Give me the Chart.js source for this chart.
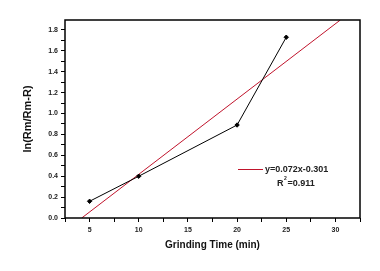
<!DOCTYPE html>
<html>
<head>
<meta charset="utf-8">
<script src="https://cdn.jsdelivr.net/npm/chart.js@4/dist/chart.umd.min.js"></script>
<style>
  html, body { margin: 0; padding: 0; background: #fff; }
  #wrap { width: 380px; height: 271px; }
</style>
</head>
<body>
<div id="wrap"><canvas id="grindChart"></canvas></div>
<script>
// measured points
const grindTime = [5, 10, 20, 25];
const lnRatio = [0.16, 0.40, 0.89, 1.73];

// linear fit y=0.072x-0.301, drawn between where it enters and leaves the frame
const fitX = [4.2, 30.5];
const fitY = [0.0, 1.895];

const xMajor = [5, 10, 15, 20, 25, 30];
const xMinor = [2.5, 7.5, 12.5, 17.5, 22.5, 27.5, 32.5];
const yMajor = [0.0, 0.2, 0.4, 0.6, 0.8, 1.0, 1.2, 1.4, 1.6, 1.8];
const yMinor = [0.1, 0.3, 0.5, 0.7, 0.9, 1.1, 1.3, 1.5, 1.7];

const fitLabel = "y=0.072x-0.301";
const r2Label = "R";
const r2Value = " =0.911";

const RED = "#c0142c";
const tickFont = { family: "Liberation Sans, Arial", size: 7, weight: "bold" };

// box around plot + legend text
const framePlugin = {
  id: "frame",
  afterDraw(chart) {
    const { ctx, chartArea: a } = chart;
    ctx.save();
    ctx.strokeStyle = "#000";
    ctx.lineWidth = 1.5;
    ctx.strokeRect(a.left, a.top, a.right - a.left, a.bottom - a.top);

    // legend entry
    ctx.strokeStyle = RED;
    ctx.lineWidth = 1;
    ctx.beginPath();
    ctx.moveTo(238, 169.5);
    ctx.lineTo(263, 169.5);
    ctx.stroke();
    ctx.fillStyle = "#222";
    ctx.font = "bold 9px Liberation Sans, Arial";
    ctx.textBaseline = "middle";
    ctx.fillText(fitLabel, 265, 170);
    ctx.fillText(r2Label, 277, 184);
    ctx.font = "bold 5px Liberation Sans, Arial";
    ctx.fillText("2", 284, 179);
    ctx.font = "bold 9px Liberation Sans, Arial";
    ctx.fillText(r2Value, 285, 184);
    ctx.restore();
  }
};

const pick = (major, minor) => scale => {
  scale.ticks = major.concat(minor).sort((p, q) => p - q).map(v => ({ value: v }));
};

new Chart(document.getElementById("grindChart"), {
  type: "scatter",
  data: {
    datasets: [
      {
        data: grindTime.map((x, i) => ({ x, y: lnRatio[i] })),
        showLine: true,
        borderColor: "#000",
        backgroundColor: "#000",
        borderWidth: 1,
        pointRadius: 2.2,
        pointStyle: "rectRot",
        order: 1
      },
      {
        data: fitX.map((x, i) => ({ x, y: fitY[i] })),
        showLine: true,
        borderColor: RED,
        borderWidth: 1,
        pointRadius: 0,
        order: 2
      }
    ]
  },
  options: {
    responsive: true,
    maintainAspectRatio: false,
    animation: false,
    layout: { padding: { top: 20, right: 20, left: 0, bottom: 0 } },
    plugins: { legend: { display: false }, tooltip: { enabled: false } },
    scales: {
      x: {
        type: "linear",
        min: 2.5,
        max: 32.5,
        afterBuildTicks: pick(xMajor, xMinor),
        afterFit: s => { s.height = 53; },
        grid: { drawOnChartArea: false, drawTicks: true, tickLength: 4, color: "#000", tickColor: "#000" },
        border: { display: false },
        ticks: {
          autoSkip: false,
          maxRotation: 0,
          padding: 4,
          color: "#222",
          font: tickFont,
          callback: v => (xMajor.includes(v) ? String(v) : "")
        },
        title: {
          display: true,
          text: "Grinding Time (min)",
          color: "#111",
          font: { family: "Liberation Sans, Arial", size: 10, weight: "bold" },
          padding: { top: 0, bottom: 20 }
        }
      },
      y: {
        type: "linear",
        min: 0,
        max: 1.895,
        afterBuildTicks: pick(yMajor, yMinor),
        afterFit: s => { s.width = 65; },
        grid: { drawOnChartArea: false, drawTicks: true, tickLength: 4, color: "#000", tickColor: "#000" },
        border: { display: false },
        ticks: {
          autoSkip: false,
          padding: 3,
          color: "#222",
          font: tickFont,
          callback: v => (yMajor.some(m => Math.abs(m - v) < 1e-6) ? v.toFixed(1) : "")
        },
        title: {
          display: true,
          text: "ln(Rm/Rm-R)",
          color: "#111",
          font: { family: "Liberation Sans, Arial", size: 11, weight: "bold" },
          padding: { top: 21, bottom: 0 }
        }
      }
    }
  },
  plugins: [framePlugin]
});
</script>
</body>
</html>
